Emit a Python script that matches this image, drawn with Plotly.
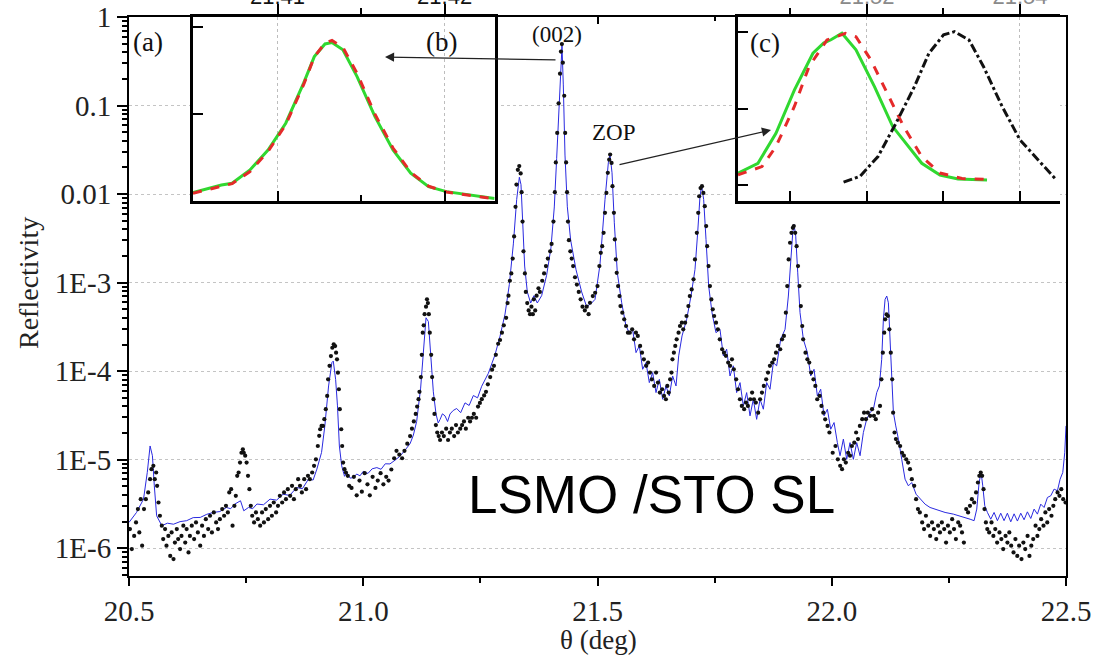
import plotly.graph_objects as go

SERIF = "Liberation Serif, Times New Roman, serif"
SANS = "Liberation Sans, Arial, sans-serif"

# ---------------- main panel (a): simulated curve (blue line) ----------------
theta_fit = [20.500, 20.516, 20.531, 20.539, 20.545, 20.550, 20.554, 20.559, 20.570, 20.582,
             20.595, 20.609, 20.623, 20.637, 20.652, 20.666, 20.680, 20.694, 20.708, 20.717,
             20.726, 20.738, 20.745, 20.755, 20.764, 20.773, 20.787, 20.801, 20.815, 20.829,
             20.843, 20.858, 20.870, 20.883, 20.893, 20.901, 20.911, 20.918, 20.926, 20.933,
             20.936, 20.941, 20.945, 20.949, 20.954, 20.960, 20.965, 20.972, 20.979, 20.986,
             20.993, 21.000, 21.010, 21.019, 21.029, 21.038, 21.047, 21.057, 21.068, 21.078,
             21.090, 21.100, 21.107, 21.114, 21.1225, 21.128, 21.134, 21.139, 21.144, 21.1496,
             21.1553, 21.160, 21.1638, 21.169, 21.1745, 21.180, 21.1852, 21.192, 21.1994, 21.208,
             21.2172, 21.226, 21.2350, 21.244, 21.2528, 21.2670, 21.2812, 21.2919, 21.3026, 21.3118,
             21.3204, 21.3275, 21.3332, 21.3367, 21.3403, 21.3445, 21.3502, 21.3573, 21.3644, 21.3715,
             21.3808, 21.3914, 21.4007, 21.4078, 21.4128, 21.4178, 21.4213, 21.4242, 21.4270, 21.4306,
             21.4356, 21.4427, 21.4541, 21.4662, 21.4768, 21.4875, 21.4947, 21.5053, 21.5160, 21.5231,
             21.5267, 21.5310, 21.5359, 21.5423, 21.5516, 21.5608, 21.5679, 21.5750, 21.5822, 21.5893,
             21.5964, 21.6035, 21.6106, 21.6177, 21.6249, 21.6320, 21.6391, 21.6462, 21.6533, 21.6604,
             21.6676, 21.6733, 21.6804, 21.6903, 21.6996, 21.7081, 21.7138, 21.7188, 21.7223, 21.7266,
             21.7316, 21.7373, 21.7444, 21.7529, 21.7614, 21.7686, 21.7757, 21.7828, 21.7899, 21.7970,
             21.8042, 21.8113, 21.8184, 21.8255, 21.8326, 21.8397, 21.8469, 21.8540, 21.8611, 21.8682,
             21.8753, 21.8824, 21.8910, 21.9003, 21.9074, 21.9131, 21.9167, 21.9195, 21.9231, 21.9274,
             21.9323, 21.9394, 21.9480, 21.9551, 21.9622, 21.9693, 21.9764, 21.9836, 21.9907, 21.9978,
             22.0049, 22.0120, 22.0177, 22.0248, 22.0319, 22.0390, 22.0461, 22.0533, 22.0604, 22.0675,
             22.0746, 22.0817, 22.0889, 22.0960, 22.1017, 22.1066, 22.1102, 22.1138, 22.1174, 22.1209,
             22.1245, 22.1280, 22.1316, 22.1366, 22.1423, 22.1494, 22.1565, 22.1636, 22.1707, 22.1800,
             22.1885, 22.1992, 22.2098, 22.2241, 22.2419, 22.2597, 22.2775, 22.2953, 22.3038, 22.3095,
             22.3145, 22.3188, 22.3223, 22.3266, 22.3323, 22.3394, 22.3465, 22.3536, 22.3607, 22.3678,
             22.3749, 22.3821, 22.3892, 22.3963, 22.4034, 22.4105, 22.4176, 22.4248, 22.4319, 22.4390,
             22.4461, 22.4532, 22.4604, 22.4675, 22.4746, 22.4817, 22.4874, 22.4931, 22.4973, 22.5000]
refl_fit = [1.96e-6, 2.54e-6, 3.59e-6, 7.18e-6, 1.43e-5, 1.11e-5, 5.08e-6, 2.33e-6, 1.80e-6, 1.92e-6,
            1.87e-6, 2.00e-6, 2.05e-6, 2.22e-6, 2.23e-6, 2.42e-6, 2.54e-6, 2.60e-6, 2.89e-6, 2.80e-6,
            3.16e-6, 3.44e-6, 2.65e-6, 2.89e-6, 2.80e-6, 3.16e-6, 3.10e-6, 3.59e-6, 3.50e-6, 4.08e-6,
            3.95e-6, 4.86e-6, 4.70e-6, 6.04e-6, 5.90e-6, 7.83e-6, 1.21e-5, 2.41e-5, 6.81e-5, 1.25e-4,
            1.30e-4, 8.09e-5, 4.06e-5, 1.43e-5, 8.53e-6, 6.50e-6, 7.18e-6, 6.20e-6, 6.30e-6, 6.90e-6,
            6.58e-6, 7.40e-6, 7.00e-6, 7.90e-6, 8.15e-6, 7.80e-6, 9.00e-6, 8.97e-6, 9.90e-6, 1.09e-5,
            1.30e-5, 1.52e-5, 1.90e-5, 2.71e-5, 6.44e-5, 1.69e-4, 4.01e-4, 3.64e-4, 1.53e-4, 5.85e-5,
            3.29e-5, 2.60e-5, 2.84e-5, 3.30e-5, 3.13e-5, 2.70e-5, 3.29e-5, 3.60e-5, 3.79e-5, 3.40e-5,
            4.39e-5, 4.10e-5, 5.31e-5, 5.00e-5, 6.76e-5, 9.46e-5, 1.53e-4, 2.48e-4, 4.41e-4, 9.53e-4,
            2.74e-3, 8.69e-3, 1.55e-2, 1.28e-2, 4.89e-3, 1.54e-3, 7.85e-4, 5.89e-4, 7.13e-4, 5.89e-4,
            7.13e-4, 1.21e-3, 2.49e-3, 7.16e-3, 2.51e-2, 9.64e-2, 0.305, 0.471, 0.171, 2.76e-2,
            7.18e-3, 3.02e-3, 1.40e-3, 7.85e-4, 5.35e-4, 5.89e-4, 6.47e-4, 1.60e-3, 8.69e-3, 2.25e-2,
            2.80e-2, 1.74e-2, 4.74e-3, 1.29e-3, 5.94e-4, 3.24e-4, 2.72e-4, 2.97e-4, 1.62e-4, 1.93e-4,
            1.05e-4, 1.25e-4, 7.43e-5, 9.64e-5, 5.73e-5, 8.09e-5, 4.82e-5, 6.81e-5, 5.26e-5, 8.83e-5,
            6.81e-5, 1.49e-4, 2.50e-4, 3.85e-4, 7.06e-4, 1.41e-3, 3.66e-3, 9.48e-3, 1.23e-2, 8.69e-3,
            3.08e-3, 9.16e-4, 4.58e-4, 2.72e-4, 2.97e-4, 1.49e-4, 1.77e-4, 8.83e-5, 1.15e-4, 5.73e-5,
            7.43e-5, 4.06e-5, 5.73e-5, 3.13e-5, 4.82e-5, 2.86e-5, 4.82e-5, 3.72e-5, 7.43e-5, 6.25e-5,
            1.25e-4, 1.15e-4, 2.29e-4, 2.97e-4, 7.06e-4, 2.17e-3, 3.66e-3, 4.54e-3, 3.35e-3, 1.29e-3,
            4.58e-4, 2.29e-4, 1.62e-4, 8.83e-5, 1.05e-4, 5.26e-5, 6.25e-5, 3.13e-5, 3.72e-5, 2.21e-5,
            2.63e-5, 1.56e-5, 1.11e-5, 1.71e-5, 1.01e-5, 1.56e-5, 1.01e-5, 1.56e-5, 1.11e-5, 2.03e-5,
            2.87e-5, 3.41e-5, 3.72e-5, 5.73e-5, 6.81e-5, 1.36e-4, 3.85e-4, 6.47e-4, 7.06e-4, 5.93e-4,
            2.49e-4, 8.09e-5, 3.41e-5, 2.41e-5, 1.71e-5, 1.01e-5, 6.03e-6, 5.07e-6, 5.53e-6, 4.08e-6,
            3.59e-6, 3.15e-6, 2.89e-6, 2.72e-6, 2.54e-6, 2.43e-6, 2.29e-6, 2.13e-6, 2.05e-6, 2.77e-6,
            5.53e-6, 7.18e-6, 5.07e-6, 3.02e-6, 2.54e-6, 2.13e-6, 2.54e-6, 2.05e-6, 2.49e-6, 2.05e-6,
            2.49e-6, 1.99e-6, 2.45e-6, 2.03e-6, 2.49e-6, 2.10e-6, 2.58e-6, 2.17e-6, 2.77e-6, 2.43e-6,
            3.15e-6, 2.89e-6, 3.75e-6, 3.92e-6, 4.66e-6, 4.46e-6, 6.03e-6, 7.18e-6, 1.20e-5, 2.41e-5]

# ---------------- main panel (a): measured data (black dots) ----------------
theta_exp = [20.502, 20.506, 20.511, 20.515, 20.519, 20.522, 20.525, 20.528, 20.532, 20.536,
             20.541, 20.545, 20.548, 20.552, 20.555, 20.558, 20.560, 20.563, 20.566, 20.570,
             20.573, 20.577, 20.580, 20.584, 20.588, 20.591, 20.595, 20.598, 20.602, 20.605,
             20.609, 20.612, 20.616, 20.620, 20.623, 20.627, 20.630, 20.634, 20.639, 20.643,
             20.647, 20.652, 20.656, 20.660, 20.664, 20.669, 20.673, 20.677, 20.681, 20.686,
             20.690, 20.694, 20.699, 20.703, 20.707, 20.711, 20.714, 20.718, 20.721, 20.725,
             20.728, 20.731, 20.734, 20.737, 20.740, 20.743, 20.745, 20.748, 20.751, 20.754,
             20.757, 20.760, 20.763, 20.767, 20.771, 20.775, 20.780, 20.784, 20.788, 20.792,
             20.797, 20.801, 20.805, 20.809, 20.814, 20.818, 20.822, 20.827, 20.831, 20.835,
             20.839, 20.844, 20.848, 20.852, 20.856, 20.861, 20.865, 20.869, 20.874, 20.878,
             20.882, 20.886, 20.891, 20.895, 20.899, 20.903, 20.906, 20.908, 20.911, 20.914,
             20.917, 20.920, 20.923, 20.925, 20.928, 20.931, 20.934, 20.937, 20.940, 20.942,
             20.944, 20.946, 20.948, 20.950, 20.953, 20.955, 20.957, 20.960, 20.963, 20.967,
             20.970,
             20.975, 20.980, 20.986, 20.992, 20.997, 21.003, 21.009, 21.014, 21.020, 21.026,
             21.031, 21.037, 21.043, 21.049, 21.054, 21.060, 21.066, 21.071, 21.077, 21.083,
             21.088, 21.094, 21.100, 21.104, 21.108, 21.112, 21.115, 21.118, 21.120, 21.123,
             21.125, 21.127, 21.129, 21.131, 21.134, 21.136, 21.138, 21.140, 21.142, 21.145,
             21.147, 21.150, 21.152, 21.155, 21.158, 21.161, 21.164, 21.168, 21.172, 21.177,
             21.181, 21.185, 21.189, 21.194, 21.198, 21.202, 21.207, 21.211, 21.215, 21.219,
             21.224, 21.228, 21.232, 21.236, 21.241, 21.245, 21.249, 21.253, 21.258, 21.262,
             21.266, 21.271, 21.275, 21.279, 21.283, 21.288, 21.292, 21.296, 21.300, 21.305,
             21.308, 21.310, 21.313, 21.316, 21.319, 21.322, 21.325, 21.327, 21.330, 21.333,
             21.336, 21.338, 21.340, 21.342, 21.345, 21.347, 21.350, 21.353, 21.356, 21.359,
             21.362, 21.364, 21.367, 21.370, 21.374, 21.377, 21.382, 21.386, 21.390, 21.394,
             21.399, 21.402, 21.406, 21.409, 21.411, 21.414, 21.417, 21.420, 21.422, 21.424,
             21.426, 21.429, 21.431, 21.433, 21.435, 21.437, 21.439, 21.442, 21.445, 21.448,
             21.452, 21.456, 21.460, 21.464, 21.468, 21.473, 21.477, 21.481,
             21.484, 21.490, 21.495, 21.500, 21.504, 21.507, 21.510, 21.513, 21.516, 21.519,
             21.522, 21.525, 21.527, 21.530, 21.532, 21.535, 21.537, 21.539, 21.541, 21.544,
             21.547, 21.549, 21.553, 21.557, 21.561, 21.565, 21.569, 21.574, 21.578, 21.582,
             21.586, 21.591, 21.595, 21.599, 21.604, 21.608, 21.612, 21.616, 21.621, 21.625,
             21.629, 21.633, 21.638, 21.642, 21.646, 21.649, 21.652, 21.655, 21.658, 21.660,
             21.663, 21.666, 21.669, 21.673, 21.676, 21.680, 21.683, 21.687, 21.690, 21.694,
             21.697, 21.701, 21.705, 21.708, 21.712, 21.715, 21.717, 21.720, 21.723, 21.726,
             21.729, 21.732, 21.734, 21.737, 21.740, 21.743, 21.746, 21.749, 21.753, 21.757,
             21.761, 21.766, 21.770, 21.774, 21.779, 21.783, 21.787, 21.791, 21.796, 21.800,
             21.804, 21.808, 21.813, 21.817, 21.821, 21.826, 21.830, 21.834, 21.838, 21.843,
             21.847, 21.851, 21.855, 21.860, 21.864, 21.868, 21.873, 21.877, 21.881, 21.885,
             21.890, 21.894, 21.898, 21.902, 21.905, 21.908, 21.911, 21.914, 21.917, 21.919,
             21.922, 21.925, 21.928, 21.931, 21.934, 21.937, 21.939, 21.944, 21.948, 21.952,
             21.956, 21.961, 21.965, 21.969, 21.974, 21.978, 21.982, 21.986, 21.991, 21.995,
             22.002, 22.008, 22.013, 22.018, 22.022, 22.026, 22.030, 22.035, 22.039, 22.043,
             22.048, 22.052, 22.056, 22.060, 22.065, 22.069, 22.073, 22.077, 22.082, 22.086,
             22.090, 22.094, 22.099, 22.103, 22.106, 22.109, 22.112, 22.114, 22.117, 22.120,
             22.123, 22.126, 22.129, 22.131, 22.134, 22.137, 22.141, 22.146, 22.150, 22.154,
             22.159, 22.163, 22.167, 22.171, 22.176, 22.180, 22.184, 22.188, 22.193, 22.197,
             22.201, 22.206, 22.210, 22.214, 22.218, 22.223, 22.227, 22.231, 22.235, 22.240,
             22.244, 22.248, 22.252, 22.257, 22.261, 22.265, 22.270, 22.274, 22.278, 22.282,
             22.287, 22.291, 22.295, 22.299, 22.304, 22.308, 22.312, 22.315, 22.318, 22.321,
             22.324, 22.326, 22.329, 22.332, 22.336, 22.341, 22.345, 22.349, 22.353, 22.358,
             22.362, 22.366, 22.371, 22.375, 22.379, 22.383, 22.388, 22.392, 22.396, 22.400,
             22.405, 22.409, 22.413, 22.418, 22.422, 22.426, 22.430, 22.435, 22.439, 22.443,
             22.447, 22.452, 22.456, 22.460, 22.464, 22.469, 22.473, 22.477, 22.482, 22.486,
             22.490, 22.494, 22.499]
refl_exp = [1.65e-6, 9.8e-7, 1.38e-6, 1.96e-6, 2.77e-6, 1.51e-6, 3.59e-6, 1.07e-6, 2.77e-6, 3.59e-6,
            4.27e-6, 6.04e-6, 7.82e-6, 8.53e-6, 6.04e-6, 7.18e-6, 5.07e-6, 3.29e-6, 2.33e-6, 1.80e-6,
            1.27e-6, 1.65e-6, 1.07e-6, 1.38e-6, 8.2e-7, 1.51e-6, 7.55e-7, 1.16e-6, 1.65e-6, 1.27e-6,
            9.8e-7, 1.38e-6, 1.80e-6, 1.16e-6, 1.65e-6, 8.97e-7, 1.38e-6, 1.80e-6, 1.27e-6, 1.96e-6,
            1.51e-6, 1.07e-6, 1.80e-6, 1.38e-6, 2.13e-6, 1.65e-6, 2.33e-6, 1.51e-6, 2.54e-6, 1.96e-6,
            1.65e-6, 2.13e-6, 2.77e-6, 2.33e-6, 3.02e-6, 2.54e-6, 4.27e-6, 4.65e-6, 1.80e-6, 3.02e-6,
            3.91e-6, 6.58e-6, 7.18e-6, 9.29e-6, 1.20e-5, 1.31e-5, 1.20e-5, 1.11e-5, 9.29e-6, 6.58e-6,
            4.65e-6, 3.02e-6, 2.33e-6, 1.96e-6, 2.54e-6, 2.13e-6, 1.80e-6, 2.54e-6, 1.96e-6, 2.77e-6,
            2.13e-6, 3.02e-6, 2.33e-6, 3.29e-6, 2.54e-6, 3.02e-6, 3.91e-6, 3.29e-6, 4.27e-6, 3.59e-6,
            4.65e-6, 3.91e-6, 5.07e-6, 3.59e-6, 4.65e-6, 6.04e-6, 5.07e-6, 4.27e-6, 6.04e-6, 4.65e-6,
            6.58e-6, 6.04e-6, 7.18e-6, 8.53e-6, 1.01e-5, 1.43e-5, 1.86e-5, 2.21e-5, 2.41e-5, 2.41e-5,
            2.87e-5, 3.72e-5, 5.25e-5, 8.09e-5, 1.15e-4, 1.48e-4, 1.84e-4, 2.01e-4, 1.92e-4, 1.62e-4,
            1.36e-4, 9.62e-5, 6.25e-5, 3.72e-5, 2.21e-5, 1.43e-5, 9.29e-6, 7.82e-6, 7.18e-6, 6.58e-6,
            5.07e-6,
            4.80e-6, 6.41e-6, 3.96e-6, 5.82e-6, 4.36e-6, 7.05e-6, 5.28e-6, 3.96e-6, 6.41e-6, 4.80e-6,
            5.82e-6, 7.05e-6, 5.28e-6, 6.41e-6, 5.82e-6, 7.76e-6, 1.04e-5, 1.26e-5, 1.14e-5, 1.04e-5,
            1.26e-5, 1.52e-5, 1.85e-5, 2.24e-5, 2.71e-5, 3.29e-5, 3.98e-5, 4.83e-5, 5.85e-5, 8.59e-5,
            1.53e-4, 2.72e-4, 3.30e-4, 4.41e-4, 5.35e-4, 6.48e-4, 5.88e-4, 4.41e-4, 2.72e-4, 1.53e-4,
            8.59e-5, 4.83e-5, 3.29e-5, 2.46e-5, 2.03e-5, 1.85e-5, 1.67e-5, 2.03e-5, 1.85e-5, 2.24e-5,
            1.67e-5, 2.03e-5, 2.24e-5, 1.85e-5, 2.46e-5, 2.03e-5, 2.24e-5, 2.46e-5, 2.71e-5, 2.24e-5,
            2.98e-5, 2.71e-5, 2.98e-5, 3.29e-5, 2.98e-5, 3.98e-5, 4.38e-5, 4.83e-5, 5.32e-5, 5.85e-5,
            7.10e-5, 8.59e-5, 1.04e-4, 1.15e-4, 1.53e-4, 2.04e-4, 2.25e-4, 2.72e-4, 3.30e-4, 4.01e-4,
            5.88e-4, 7.13e-4, 1.05e-3, 1.27e-3, 1.87e-3, 3.33e-3, 7.18e-3, 1.28e-2, 1.88e-2, 2.07e-2,
            1.71e-2, 1.05e-2, 4.89e-3, 2.26e-3, 1.27e-3, 7.85e-4, 5.88e-4, 4.85e-4, 4.41e-4, 5.35e-4,
            4.41e-4, 6.48e-4, 4.85e-4, 7.13e-4, 8.64e-4, 7.85e-4, 1.05e-3, 1.27e-3, 1.54e-3, 1.87e-3,
            2.26e-3, 2.74e-3, 4.89e-3, 1.05e-2, 2.28e-2, 4.91e-2, 0.106, 0.229, 0.407, 0.494,
            0.305, 0.129, 4.91e-2, 2.28e-2, 1.05e-2, 4.89e-3, 3.02e-3, 2.26e-3, 1.87e-3, 1.54e-3,
            1.15e-3, 9.51e-4, 7.85e-4, 6.48e-4, 5.35e-4, 4.85e-4, 5.35e-4, 4.41e-4,
            5.93e-4, 7.05e-4, 7.69e-4, 9.14e-4, 1.54e-3, 2.17e-3, 2.58e-3, 3.65e-3, 6.14e-3, 1.03e-2,
            1.74e-2, 2.45e-2, 2.80e-2, 2.25e-2, 1.23e-2, 6.14e-3, 3.08e-3, 1.83e-3, 1.29e-3, 9.14e-4,
            7.05e-4, 5.44e-4, 4.58e-4, 3.85e-4, 3.24e-4, 2.72e-4, 2.72e-4, 2.97e-4, 2.29e-4, 2.72e-4,
            2.50e-4, 1.93e-4, 1.62e-4, 1.36e-4, 1.15e-4, 1.25e-4, 9.64e-5, 8.09e-5, 6.81e-5, 9.64e-5,
            7.43e-5, 5.73e-5, 6.25e-5, 5.26e-5, 4.82e-5, 6.81e-5, 5.73e-5, 8.09e-5, 9.64e-5, 1.36e-4,
            1.62e-4, 1.93e-4, 2.29e-4, 2.72e-4, 3.24e-4, 3.53e-4, 2.97e-4, 3.53e-4, 4.20e-4, 5.44e-4,
            7.05e-4, 8.39e-4, 1.09e-3, 1.83e-3, 3.65e-3, 6.14e-3, 9.46e-3, 1.17e-2, 1.23e-2, 1.03e-2,
            7.30e-3, 4.35e-3, 2.58e-3, 1.54e-3, 9.14e-4, 6.47e-4, 4.99e-4, 4.20e-4, 3.53e-4, 2.97e-4,
            2.29e-4, 1.77e-4, 1.62e-4, 1.49e-4, 1.25e-4, 1.15e-4, 1.36e-4, 1.05e-4, 8.09e-5, 6.25e-5,
            4.82e-5, 4.05e-5, 3.72e-5, 4.42e-5, 4.05e-5, 4.82e-5, 5.73e-5, 4.82e-5, 4.42e-5, 3.40e-5,
            4.82e-5, 5.73e-5, 6.81e-5, 8.09e-5, 9.64e-5, 1.15e-4, 1.25e-4, 1.36e-4, 1.62e-4, 1.93e-4,
            1.77e-4, 2.29e-4, 2.50e-4, 4.58e-4, 9.14e-4, 1.83e-3, 2.82e-3, 3.65e-3, 4.16e-3, 4.35e-3,
            3.65e-3, 2.58e-3, 1.54e-3, 9.14e-4, 5.44e-4, 3.24e-4, 2.29e-4, 1.62e-4, 1.36e-4, 1.25e-4,
            9.64e-5, 8.09e-5, 6.81e-5, 4.82e-5, 5.26e-5, 4.05e-5, 3.40e-5, 2.86e-5, 2.41e-5, 2.03e-5,
            1.20e-5, 1.43e-5, 1.01e-5, 8.53e-6, 7.82e-6, 1.01e-5, 9.29e-6, 1.20e-5, 1.11e-5, 1.43e-5,
            1.56e-5, 2.03e-5, 1.71e-5, 2.41e-5, 2.87e-5, 3.40e-5, 2.87e-5, 3.40e-5, 3.13e-5, 3.72e-5,
            3.13e-5, 2.87e-5, 3.40e-5, 4.05e-5, 8.09e-5, 1.62e-4, 2.72e-4, 3.85e-4, 4.38e-4, 4.20e-4,
            2.97e-4, 1.62e-4, 8.09e-5, 3.40e-5, 2.03e-5, 1.71e-5, 1.56e-5, 1.43e-5, 1.20e-5, 1.11e-5,
            1.01e-5, 9.29e-6, 7.82e-6, 6.04e-6, 5.07e-6, 3.59e-6, 2.77e-6, 2.54e-6, 1.96e-6, 1.65e-6,
            2.33e-6, 1.80e-6, 1.38e-6, 1.96e-6, 1.65e-6, 1.27e-6, 1.80e-6, 1.51e-6, 1.96e-6, 1.65e-6,
            1.16e-6, 1.80e-6, 1.51e-6, 2.13e-6, 1.65e-6, 1.27e-6, 1.96e-6, 1.80e-6, 1.51e-6, 1.16e-6,
            2.77e-6, 2.54e-6, 3.02e-6, 3.59e-6, 3.29e-6, 4.27e-6, 5.53e-6, 6.58e-6, 7.18e-6, 6.58e-6,
            4.65e-6, 2.77e-6, 1.96e-6, 1.65e-6, 1.51e-6, 1.96e-6, 1.38e-6, 1.65e-6, 1.16e-6, 1.51e-6,
            1.27e-6, 9.8e-7, 1.38e-6, 1.16e-6, 1.51e-6, 1.07e-6, 8.97e-7, 1.27e-6, 8.2e-7, 1.07e-6,
            7.55e-7, 1.16e-6, 9.8e-7, 1.38e-6, 8.2e-7, 1.07e-6, 1.27e-6, 1.80e-6, 1.38e-6, 1.65e-6,
            2.13e-6, 1.80e-6, 2.54e-6, 1.96e-6, 2.77e-6, 2.33e-6, 3.02e-6, 3.59e-6, 4.27e-6, 3.91e-6,
            4.65e-6, 3.59e-6, 3.29e-6]

x_ticks = [20.5, 21.0, 21.5, 22.0, 22.5]
x_tick_labels = ["20.5", "21.0", "21.5", "22.0", "22.5"]
x_minor = [20.75, 21.25, 21.75, 22.25]
y_ticks = [1e-6, 1e-5, 1e-4, 1e-3, 1e-2, 1e-1, 1]
y_tick_labels = ["1E-6", "1E-5", "1E-4", "1E-3", "0.01", "0.1", "1"]
y_minor = [m * 10.0 ** e for e in range(-7, 0) for m in range(2, 10)]

# ---------------- inset (b): (002) peak ----------------
theta_b = [21.40494, 21.40664, 21.40728, 21.40835, 21.40943, 21.41049, 21.41156, 21.41220, 21.41284,
           21.41326, 21.41391, 21.41476, 21.41583, 21.41691, 21.41797, 21.41904, 21.42011, 21.42299]
b_green = [0.048, 0.092, 0.102, 0.179, 0.294, 0.448, 0.679, 0.832, 0.905,
           0.913, 0.871, 0.717, 0.486, 0.294, 0.160, 0.083, 0.054, 0.015]
b_red = [0.045, 0.088, 0.100, 0.170, 0.285, 0.440, 0.670, 0.830, 0.910,
         0.925, 0.885, 0.735, 0.500, 0.305, 0.165, 0.085, 0.052, 0.012]
b_ticks = [21.41, 21.42]
b_tick_labels = ["21.41", "21.42"]

# ---------------- inset (c): ZOP peak ----------------
theta_c_green = [21.50314, 21.50575, 21.50810, 21.51052, 21.51294, 21.51433, 21.51529, 21.51673,
                 21.51856, 21.52098, 21.52336, 21.52478, 21.52716, 21.52954, 21.53190, 21.53569]
c_green = [0.077, 0.142, 0.338, 0.622, 0.862, 0.928, 0.950, 0.993,
           0.884, 0.644, 0.382, 0.295, 0.142, 0.065, 0.039, 0.033]
theta_c_red = [21.50314, 21.50627, 21.50810, 21.51052, 21.51242, 21.51477, 21.51719, 21.51856,
               21.52052, 21.52288, 21.52478, 21.52716, 21.52954, 21.53242, 21.53569]
c_red = [0.066, 0.120, 0.251, 0.515, 0.774, 0.949, 0.992, 0.970,
         0.817, 0.578, 0.383, 0.186, 0.078, 0.042, 0.036]
theta_c_black = [21.51694, 21.51908, 21.52144, 21.52379, 21.52621, 21.52810, 21.53001, 21.53144,
                 21.53333, 21.53524, 21.53765, 21.54000, 21.54235, 21.54471]
c_black = [0.018, 0.056, 0.186, 0.404, 0.644, 0.862, 0.982, 1.003,
           0.949, 0.774, 0.515, 0.295, 0.165, 0.036]
c_ticks = [21.52, 21.54]
c_tick_labels = ["21.52", "21.54"]

fig = go.Figure()

# main panel
fig.add_trace(go.Scatter(x=theta_fit, y=refl_fit, mode="lines",
                         line=dict(color="#2a2ae0", width=1), xaxis="x", yaxis="y"))
fig.add_trace(go.Scatter(x=theta_exp, y=refl_exp, mode="markers",
                         marker=dict(color="#111111", size=4.2), xaxis="x", yaxis="y"))
# empty traces that establish the tick-only overlay axes
fig.add_trace(go.Scatter(x=[], y=[], xaxis="x5", yaxis="y"))

# inset (b)
fig.add_trace(go.Scatter(x=theta_b, y=b_green, mode="lines", line=dict(color="#30d830", width=3),
                         xaxis="x2", yaxis="y2"))
fig.add_trace(go.Scatter(x=theta_b, y=b_red, mode="lines",
                         line=dict(color="#e52a2a", width=3, dash="dash"), xaxis="x2", yaxis="y2"))
fig.add_trace(go.Scatter(x=[], y=[], xaxis="x6", yaxis="y2"))

# inset (c)
fig.add_trace(go.Scatter(x=theta_c_green, y=c_green, mode="lines", line=dict(color="#30d830", width=3),
                         xaxis="x3", yaxis="y3"))
fig.add_trace(go.Scatter(x=theta_c_red, y=c_red, mode="lines",
                         line=dict(color="#e52a2a", width=3, dash="dash"), xaxis="x3", yaxis="y3"))
fig.add_trace(go.Scatter(x=theta_c_black, y=c_black, mode="lines",
                         line=dict(color="#111111", width=3, dash="dashdot"), xaxis="x3", yaxis="y3"))
fig.add_trace(go.Scatter(x=[], y=[], xaxis="x7", yaxis="y3"))

L, R, T, B = 129, 44, 17, 82
PW, PH = 1110 - L - R, 658 - T - B


def px(xp):
    return (xp - L) / PW


def py(yp):
    return (658 - B - yp) / PH


inset_bottom = py(201)
serif_tick = dict(family=SERIF, size=29, color="#222222")
line_kw = dict(showline=True, linecolor="black", zeroline=False, automargin=False)

fig.update_layout(
    width=1110, height=658,
    margin=dict(l=L, r=R, t=T, b=B, autoexpand=False),
    paper_bgcolor="white", plot_bgcolor="white",
    font=dict(family=SERIF, color="#222222"),
    showlegend=False,
    xaxis=dict(domain=[0, 1], anchor="y", range=[20.5, 22.5], tickmode="array",
               tickvals=x_ticks, ticktext=x_tick_labels, ticks="outside", ticklen=8, tickwidth=2,
               tickcolor="black", linewidth=2, mirror=True, showgrid=False, tickfont=serif_tick,
               minor=dict(tickmode="array", tickvals=x_minor, ticks="outside", ticklen=5,
                          tickwidth=2, tickcolor="black", showgrid=False),
               **line_kw),
    yaxis=dict(domain=[0, 1], anchor="x", type="log", range=[-6.313, 0], tickmode="array",
               tickvals=y_ticks, ticktext=y_tick_labels, ticks="outside", ticklen=10, tickwidth=2,
               tickcolor="black", linewidth=2, mirror=True, showgrid=True, gridcolor="#c4c4c4",
               griddash="dot", gridwidth=1, tickfont=serif_tick,
               minor=dict(tickmode="array", tickvals=y_minor, ticks="outside", ticklen=5,
                          tickwidth=1.5, tickcolor="black", showgrid=False),
               **line_kw),
    xaxis5=dict(overlaying="x", anchor="y", side="top", range=[20.5, 22.5], tickmode="array",
                tickvals=x_ticks, ticks="inside", ticklen=7, tickwidth=2, tickcolor="black",
                showticklabels=False, showgrid=False, showline=False, zeroline=False,
                automargin=False,
                minor=dict(tickmode="array", tickvals=x_minor, ticks="inside", ticklen=4,
                           tickwidth=2, tickcolor="black", showgrid=False)),
    # inset (b)
    xaxis2=dict(domain=[px(193), px(494.6)], anchor="y2", side="top",
                range=[21.40494, 21.42299], tickmode="array", tickvals=b_ticks,
                ticktext=b_tick_labels, ticks="outside", ticklen=10, tickwidth=2, tickcolor="black",
                ticklabelstandoff=-9,
                showgrid=True, gridcolor="#bdbdbd", griddash="dot", gridwidth=1,
                linewidth=2.5, mirror=True,
                tickfont=dict(family=SANS, size=22, color="#111111"),
                minor=dict(tickmode="array", tickvals=[21.415], ticks="outside", ticklen=6,
                           tickwidth=2, tickcolor="black", showgrid=False),
                **line_kw),
    yaxis2=dict(domain=[inset_bottom, 1.0], anchor="x2", range=[0, 1.06], tickmode="array",
                tickvals=[0.5, 1.0], ticks="inside", ticklen=10, tickwidth=2, tickcolor="black",
                showticklabels=False, showgrid=False, linewidth=2.5, mirror=True, **line_kw),
    xaxis6=dict(overlaying="x2", anchor="y2", side="bottom", range=[21.40494, 21.42299],
                tickmode="array", tickvals=b_ticks, ticks="inside", ticklen=10, tickwidth=2,
                tickcolor="black", showticklabels=False, showgrid=False, showline=False,
                zeroline=False, automargin=False,
                minor=dict(tickmode="array", tickvals=[21.415], ticks="inside", ticklen=6,
                           tickwidth=2, tickcolor="black", showgrid=False)),
    # inset (c)
    xaxis3=dict(domain=[px(738), px(1060)], anchor="y3", side="top",
                range=[21.50314, 21.54523], tickmode="array", tickvals=c_ticks,
                ticktext=c_tick_labels, ticks="outside", ticklen=10, tickwidth=2, tickcolor="black",
                ticklabelstandoff=-9,
                showgrid=True, gridcolor="#bdbdbd", griddash="dot", gridwidth=1,
                linewidth=2.5, mirror=True,
                tickfont=dict(family=SANS, size=22, color="#8a8a8a"),
                minor=dict(tickmode="array", tickvals=[21.51, 21.53], ticks="outside", ticklen=6,
                           tickwidth=2, tickcolor="black", showgrid=False),
                **line_kw),
    yaxis3=dict(domain=[inset_bottom, 1.0], anchor="x3", range=[-0.105, 1.099], tickmode="array",
                tickvals=[0, 0.5, 1.0], ticks="inside", ticklen=10, tickwidth=2, tickcolor="black",
                showticklabels=False, showgrid=False, linewidth=2.5, mirror=False, **line_kw),
    xaxis7=dict(overlaying="x3", anchor="y3", side="bottom", range=[21.50314, 21.54523],
                tickmode="array", tickvals=[21.51, 21.52, 21.53, 21.54], ticks="inside",
                ticklen=10, tickwidth=2, tickcolor="black", showticklabels=False, showgrid=False,
                showline=False, zeroline=False, automargin=False),
)

ann_font = dict(family=SERIF, size=27, color="#111111")
annotations = [
    dict(text="(a)", x=px(148), y=py(42), font=ann_font),
    dict(text="(b)", x=px(441), y=py(42), font=ann_font),
    dict(text="(c)", x=px(765), y=py(43), font=ann_font),
    dict(text="(002)", x=px(557), y=py(35), font=dict(family=SERIF, size=23, color="#111111")),
    dict(text="ZOP", x=px(613), y=py(132), font=dict(family=SERIF, size=23, color="#111111")),
    dict(text="LSMO /STO SL", x=px(651), y=py(494), font=dict(family=SANS, size=53, color="black")),
    dict(text="Reflectivity", x=px(28), y=py(283), textangle=-90,
         font=dict(family=SERIF, size=28, color="#222222")),
    dict(text="θ (deg)", x=px(598), y=py(640), font=dict(family=SERIF, size=27, color="#222222")),
]
for a in annotations:
    a.update(xref="paper", yref="paper", showarrow=False, xanchor="center", yanchor="middle")

arrows = [
    dict(x=px(385), y=py(57), ax=172, ay=3),
    dict(x=px(771), y=py(130), ax=-153, ay=35),
]
for a in arrows:
    a.update(xref="paper", yref="paper", text="", showarrow=True, arrowhead=2, arrowsize=1.4,
             arrowwidth=1.3, arrowcolor="#222222", standoff=0, startstandoff=0)

fig.update_layout(annotations=annotations + arrows)

fig.write_html("out.html")
